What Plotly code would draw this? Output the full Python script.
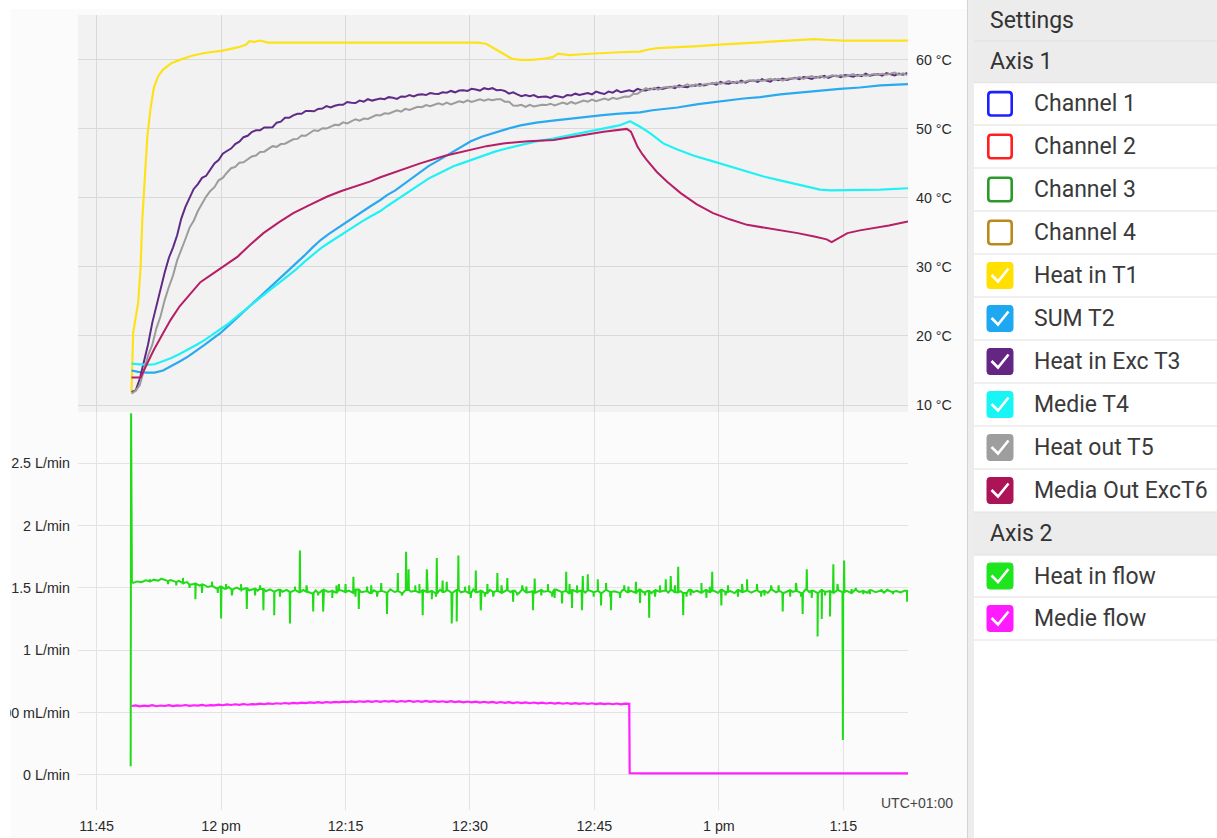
import plotly.graph_objects as go
from datetime import datetime, timedelta

W, H = 1217, 838
BASE = datetime(2024, 3, 14, 11, 45)


def at(minutes):
    return [BASE + timedelta(minutes=float(m)) for m in minutes]


def grid(start, step, n):
    return [round(start + step * i, 3) for i in range(n)]


# ---------------- data (minutes after 11:45) ----------------
x_tick_min = [0, 15, 30, 45, 60, 75, 90]
x_tick_text = ["11:45", "12 pm", "12:15", "12:30", "12:45", "1 pm", "1:15"]
temp_ticks = [10, 20, 30, 40, 50, 60]
temp_tick_text = ["10 °C", "20 °C", "30 °C", "40 °C", "50 °C", "60 °C"]
flow_ticks = [0, 0.5, 1, 1.5, 2, 2.5]
flow_tick_text = ["0 L/min", "500 mL/min", "1 L/min", "1.5 L/min", "2 L/min", "2.5 L/min"]

# Heat in T1
t1_min = [4.2, 4.3, 4.4, 5.0, 5.3, 5.5, 5.8, 6.1, 6.5, 6.9, 7.4, 8.0, 9.0, 10.0, 11.5, 13.0,
          15.0, 17.0, 18.0, 18.4, 19.0, 19.8, 20.6, 22, 25, 28, 31, 34, 38, 42, 46, 47, 48,
          49, 50, 51, 52.5, 54, 55, 55.6, 56.2, 57, 59, 61, 63, 65.5, 66.5, 67.6, 70, 72.5,
          75, 78, 81.5, 84, 86.5, 88, 90, 94, 97.8]
t1_val = [11.8, 15.0, 20.5, 24.8, 30.0, 36.8, 43.0, 48.8, 53.0, 56.0, 57.6, 58.6, 59.5, 60.0,
          60.6, 61.0, 61.3, 61.8, 62.2, 62.7, 62.6, 62.8, 62.5, 62.5, 62.45, 62.5, 62.45, 62.5,
          62.5, 62.5, 62.5, 62.3, 61.6, 60.8, 60.2, 60.0, 60.0, 60.2, 60.4, 60.9, 60.8, 60.7,
          60.85, 61.0, 61.1, 61.2, 61.5, 61.7, 61.9, 62.0, 62.2, 62.4, 62.7, 62.9, 63.0, 62.9,
          62.8, 62.8, 62.8]

# SUM T2
t2_min = [4.2, 5.0, 6.0, 7.0, 8.0, 9.0, 10.0, 11.0, 12.0, 13.0, 14.0, 14.9, 16.0, 17.0, 18.0,
          18.9, 20.0, 21.0, 22.0, 23.0, 24.0, 25.0, 26.0, 27.0, 28.0, 29.0, 30.0, 31.0, 32.0,
          33.0, 34.2, 35.0, 36.0, 37.0, 38.0, 39.0, 40.0, 41.0, 42.0, 43.0, 44.0, 45.1, 46.5,
          48.0, 49.5, 51.1, 53.0, 55.0, 57.1, 59.0, 61.0, 63.0, 65.5, 67.0, 70.0, 72.5, 75.2,
          78.0, 80.0, 82.4, 85.0, 87.5, 89.6, 92.0, 94.5, 97.8]
t2_val = [15.0, 14.8, 14.7, 14.7, 15.0, 15.6, 16.3, 17.0, 17.8, 18.7, 19.6, 20.4, 21.6, 22.7,
          23.8, 24.8, 26.0, 27.1, 28.2, 29.3, 30.5, 31.6, 32.8, 33.9, 34.8, 35.6, 36.5, 37.3,
          38.1, 38.8, 39.7, 40.4, 41.1, 42.0, 42.9, 43.8, 44.6, 45.3, 46.0, 46.7, 47.4, 48.2,
          48.9, 49.5, 50.0, 50.5, 50.9, 51.2, 51.5, 51.8, 52.0, 52.2, 52.4, 52.7, 53.1, 53.6,
          54.0, 54.4, 54.6, 55.0, 55.3, 55.6, 55.8, 56.0, 56.3, 56.5]

# Heat in Exc T3 (sampled every 0.5 min from 4.2)
t3_val = [11.9, 12.1, 13.8, 16.2, 18.8, 21.9, 24.3, 27.1, 29.2, 31.3,
          32.8, 34.6, 37.0, 38.7, 39.9, 41.3, 42.0, 42.9, 43.2, 44.2,
          45.0, 45.5, 46.4, 46.8, 47.15, 47.8, 48.15, 48.8, 49.0, 49.55,
          49.8, 49.8, 50.2, 50.2, 50.25, 50.9, 51.05, 51.6, 51.6, 51.95,
          52.2, 52.2, 52.6, 52.6, 52.55, 52.9, 52.95, 53.3, 53.1, 53.35,
          53.5, 53.5, 53.9, 53.8, 53.75, 54.1, 53.95, 54.3, 54.1, 54.25,
          54.4, 54.3, 54.6, 54.5, 54.35, 54.7, 54.65, 54.9, 54.7, 54.95,
          55.0, 54.9, 55.2, 55.1, 55.05, 55.3, 55.25, 55.5, 55.3, 55.55,
          55.6, 55.5, 55.8, 55.7, 55.55, 55.9, 55.75, 55.9, 55.6, 55.65,
          55.5, 55.1, 55.3, 55.0, 54.75, 54.9, 54.75, 54.9, 54.6, 54.65,
          54.7, 54.5, 54.8, 54.7, 54.55, 54.9, 54.85, 55.1, 54.9, 55.05,
          55.2, 55.0, 55.4, 55.2, 55.05, 55.4, 55.25, 55.6, 55.3, 55.45,
          55.6, 55.4, 55.8, 55.6, 55.55, 55.8, 55.75, 56.0, 55.8, 55.95,
          56.1, 55.9, 56.3, 56.1, 56.05, 56.3, 56.25, 56.5, 56.3, 56.45,
          56.6, 56.4, 56.8, 56.6, 56.55, 56.8, 56.65, 57.0, 56.7, 56.95,
          57.0, 56.8, 57.2, 57.0, 56.85, 57.2, 57.05, 57.3, 57.1, 57.25,
          57.4, 57.2, 57.5, 57.4, 57.25, 57.5, 57.45, 57.7, 57.4, 57.65,
          57.7, 57.5, 57.8, 57.7, 57.55, 57.8, 57.65, 58.0, 57.7, 57.85,
          57.9, 57.7, 58.1, 57.9, 57.75, 58.0, 57.85, 58.1]

# Medie T4
t4_min = [4.2, 5.0, 6.0, 7.0, 8.0, 9.0, 10.0, 11.0, 12.0, 13.0, 14.0, 14.9, 16.0, 17.0, 18.0,
          18.9, 20.0, 21.0, 22.0, 23.0, 24.0, 25.0, 26.0, 27.0, 28.0, 29.0, 30.0, 31.0, 32.0,
          33.0, 34.2, 35.0, 36.0, 37.0, 38.0, 39.0, 40.0, 41.0, 42.0, 43.0, 44.0, 45.1, 46.5,
          48.0, 49.5, 51.1, 53.0, 55.0, 57.1, 59.0, 61.1, 63.0, 64.3, 64.8, 65.5, 66.7, 68.3,
          70.0, 72.0, 74.3, 76.5, 78.5, 80.4, 82.5, 85.0, 87.2, 88.5, 90.0, 92.0, 94.5, 97.8]
t4_val = [16.0, 15.9, 15.8, 15.9, 16.3, 16.8, 17.4, 18.0, 18.7, 19.4, 20.2, 20.9, 21.9, 22.9,
          23.9, 24.8, 25.8, 26.8, 27.7, 28.6, 29.6, 30.7, 31.7, 32.7, 33.5, 34.3, 35.1, 35.8,
          36.6, 37.3, 38.1, 38.8, 39.6, 40.4, 41.3, 42.1, 42.8, 43.4, 44.0, 44.6, 45.0, 45.5,
          46.1, 46.7, 47.2, 47.7, 48.2, 48.6, 49.1, 49.5, 50.0, 50.5, 51.1, 50.8, 50.3, 49.4,
          47.9, 47.0, 46.1, 45.3, 44.5, 43.8, 43.1, 42.5, 41.8, 41.2, 41.1, 41.1, 41.15, 41.2,
          41.4]

# Heat out T5 (sampled every 0.5 min from 4.2)
t5_val = [11.65, 12.05, 12.9, 15.05, 17.2, 18.7, 21.1, 22.85, 25.2, 27.1,
          28.75, 30.95, 32.4, 34.05, 35.7, 36.7, 38.1, 39.15, 40.2, 41.0,
          41.55, 42.55, 42.9, 43.65, 44.3, 44.5, 45.1, 45.15, 45.6, 46.0,
          46.15, 46.65, 46.7, 47.05, 47.5, 47.4, 47.8, 47.85, 48.2, 48.5,
          48.55, 49.05, 49.0, 49.45, 49.8, 49.7, 50.1, 50.05, 50.3, 50.6,
          50.55, 50.95, 50.8, 51.05, 51.4, 51.2, 51.5, 51.45, 51.7, 52.0,
          51.95, 52.25, 52.2, 52.45, 52.7, 52.5, 52.9, 52.75, 53.0, 53.2,
          53.15, 53.45, 53.3, 53.45, 53.7, 53.5, 53.8, 53.55, 53.8, 54.0,
          53.85, 54.15, 53.9, 54.15, 54.3, 54.1, 54.3, 54.15, 54.3, 54.3,
          53.95, 53.95, 53.4, 53.35, 53.5, 53.2, 53.5, 53.25, 53.4, 53.5,
          53.45, 53.65, 53.4, 53.65, 53.8, 53.6, 53.9, 53.65, 53.9, 54.1,
          53.95, 54.25, 54.0, 54.25, 54.4, 54.2, 54.5, 54.35, 54.5, 54.7,
          54.65, 55.05, 55.1, 55.55, 55.9, 55.65, 55.95, 55.7, 55.95, 56.05,
          56.0, 56.2, 56.05, 56.2, 56.45, 56.15, 56.45, 56.2, 56.45, 56.55,
          56.5, 56.7, 56.55, 56.7, 56.95, 56.65, 56.85, 56.7, 56.85, 57.05,
          56.9, 57.1, 56.95, 57.1, 57.25, 57.05, 57.25, 57.0, 57.25, 57.35,
          57.3, 57.5, 57.25, 57.5, 57.65, 57.35, 57.65, 57.4, 57.55, 57.75,
          57.6, 57.8, 57.55, 57.8, 57.95, 57.65, 57.85, 57.7, 57.85, 57.95,
          57.8, 58.0, 57.85, 58.0, 58.15, 57.85, 58.05, 57.8]

# Media Out ExcT6
t6_min = [4.2, 5.3, 6.0, 6.9, 8.0, 8.9, 10.0, 11.3, 12.5, 14.1, 15.5, 17.0, 18.5, 20.1, 22.0,
          23.7, 25.7, 27.8, 29.5, 31.0, 33.0, 34.2, 36.5, 39.0, 42.0, 45.1, 47.0, 49.0, 52.0,
          55.1, 58.0, 61.1, 63.9, 64.4, 64.8, 65.2, 65.8, 66.3, 67.5, 68.8, 70.4, 72.3, 74.3,
          76.3, 78.4, 81.5, 84.5, 86.5, 88.0, 88.6, 89.3, 90.5, 92.0, 93.6, 95.5, 97.8]
t6_val = [14.0, 14.0, 15.8, 18.0, 20.4, 22.3, 24.3, 26.2, 27.8, 29.1, 30.3, 31.5, 33.2, 34.9,
          36.5, 37.8, 39.0, 40.2, 41.0, 41.6, 42.4, 43.0, 44.0, 45.0, 46.1, 47.0, 47.5, 47.9,
          48.2, 48.4, 49.0, 49.6, 50.0, 49.6, 48.5, 47.4, 46.3, 45.5, 43.8, 42.3, 40.7, 39.1,
          37.8, 36.9, 36.1, 35.5, 34.9, 34.4, 34.0, 33.6, 34.1, 34.9, 35.3, 35.6, 36.0, 36.6]

# Heat in flow: start transient, baseline every 0.5 min from 4.4, spikes
flow1_start_min = [4.10, 4.15, 4.25]
flow1_start_val = [0.07, 2.90, 1.55]
flow1_base_val = [1.540, 1.552, 1.546, 1.561, 1.553, 1.566, 1.558, 1.571, 1.556, 1.563,
                  1.548, 1.556, 1.538, 1.547, 1.527, 1.534, 1.518, 1.526, 1.507, 1.516,
                  1.498, 1.511, 1.493, 1.507, 1.488, 1.502, 1.484, 1.497, 1.481, 1.493,
                  1.478, 1.492, 1.473, 1.489, 1.471, 1.486, 1.469, 1.484, 1.468, 1.482,
                  1.466, 1.483, 1.470, 1.458, 1.479, 1.464, 1.485, 1.468, 1.476, 1.461,
                  1.482, 1.467, 1.478, 1.460, 1.487, 1.465, 1.474, 1.459, 1.481, 1.468,
                  1.476, 1.462, 1.489, 1.467, 1.473, 1.458, 1.484, 1.469, 1.477, 1.463,
                  1.482, 1.466, 1.475, 1.457, 1.486, 1.468, 1.479, 1.461, 1.483, 1.465,
                  1.474, 1.460, 1.488, 1.466, 1.477, 1.459, 1.484, 1.469, 1.475, 1.462,
                  1.481, 1.467, 1.478, 1.458, 1.486, 1.464, 1.473, 1.461, 1.482, 1.469,
                  1.476, 1.460, 1.487, 1.466, 1.474, 1.458, 1.483, 1.468, 1.479, 1.462,
                  1.480, 1.465, 1.476, 1.459, 1.485, 1.467, 1.473, 1.460, 1.484, 1.468,
                  1.477, 1.461, 1.488, 1.466, 1.475, 1.458, 1.482, 1.469, 1.478, 1.463,
                  1.481, 1.466, 1.474, 1.459, 1.486, 1.467, 1.476, 1.461, 1.483, 1.465,
                  1.477, 1.460, 1.485, 1.468, 1.474, 1.458, 1.484, 1.466, 1.479, 1.462,
                  1.482, 1.467, 1.475, 1.459, 1.487, 1.465, 1.473, 1.461, 1.481, 1.468,
                  1.476, 1.460, 1.486, 1.466, 1.478, 1.458, 1.483, 1.469, 1.474, 1.463,
                  1.481, 1.466, 1.477, 1.459, 1.484, 1.467, 1.475, 1.461, 1.482, 1.465,
                  1.476, 1.462, 1.480, 1.468, 1.474, 1.463, 1.478]
flow1_spike_min = [6.4, 11.9, 15.0, 18.1, 19.7, 20.1, 21.4, 23.3, 24.5, 26.1, 27.3, 30.0,
                   30.95, 31.6, 35.0, 36.3, 37.3, 37.6, 39.3, 39.8, 41.0, 41.7, 42.8, 43.4,
                   43.6, 45.7, 46.3, 48.3, 49.5, 50.2, 52.6, 52.8, 56.1, 56.6, 57.3, 58.5,
                   58.6, 59.2, 60.4, 60.8, 62.0, 65.5, 66.6, 68.6, 69.2, 70.1, 70.7, 74.2,
                   75.3, 78.4, 82.7, 85.1, 85.6, 86.9, 87.4, 88.4, 88.8, 89.95, 90.1, 97.7]
flow1_spike_val = [1.57, 1.41, 1.255, 1.33, 1.52, 1.32, 1.28, 1.215, 1.80, 1.31, 1.31, 1.53,
                   1.59, 1.33, 1.29, 1.62, 1.79, 1.65, 1.28, 1.65, 1.74, 1.56, 1.215, 1.23,
                   1.76, 1.64, 1.32, 1.62, 1.58, 1.39, 1.32, 1.575, 1.375, 1.63, 1.34, 1.32,
                   1.595, 1.61, 1.57, 1.36, 1.32, 1.38, 1.26, 1.57, 1.595, 1.67, 1.28, 1.63,
                   1.36, 1.57, 1.31, 1.29, 1.65, 1.11, 1.25, 1.27, 1.69, 0.28, 1.72, 1.39]
flow1_minor_min = [7.8, 8.6, 9.6, 10.4, 11.2, 12.7, 13.9, 14.6, 15.6, 16.3, 17.4, 19.1,
                   22.1, 23.9, 25.3, 26.7, 28.4, 28.9, 29.2, 31.2, 32.6, 33.1, 33.8, 34.3,
                   36.8, 38.4, 38.9, 40.4, 40.9, 42.2, 44.4, 44.9, 45.1, 46.8, 47.1, 47.8,
                   48.8, 50.7, 51.3, 51.8, 53.6, 54.4, 54.9, 55.2, 57.0, 57.9, 59.9, 61.4,
                   61.9, 63.1, 63.6, 64.1, 65.0, 66.1, 67.3, 67.9, 69.7, 71.1, 71.6, 72.9,
                   73.5, 73.9, 75.8, 76.1, 77.3, 77.8, 79.6, 80.1, 80.5, 81.3, 82.2, 83.6,
                   84.3, 84.9, 86.2, 87.8, 89.3, 91.0, 91.5, 92.4, 93.2, 94.6, 95.3, 96.0]
flow1_minor_val = [1.58, 1.53, 1.52, 1.58, 1.50, 1.46, 1.55, 1.46, 1.53, 1.44, 1.53, 1.44,
                   1.43, 1.51, 1.52, 1.44, 1.42, 1.52, 1.53, 1.43, 1.51, 1.52, 1.43, 1.54,
                   1.44, 1.52, 1.53, 1.41, 1.43, 1.55, 1.51, 1.52, 1.42, 1.43, 1.53, 1.43,
                   1.52, 1.44, 1.52, 1.51, 1.44, 1.53, 1.43, 1.42, 1.53, 1.52, 1.43, 1.54,
                   1.43, 1.42, 1.52, 1.51, 1.55, 1.44, 1.43, 1.52, 1.52, 1.43, 1.44, 1.54,
                   1.42, 1.51, 1.44, 1.52, 1.43, 1.53, 1.53, 1.43, 1.44, 1.52, 1.52, 1.43,
                   1.54, 1.43, 1.42, 1.44, 1.53, 1.49, 1.50, 1.45, 1.45, 1.49, 1.49, 1.45]

# Medie flow: every 0.5 min from 4.2 until the stop, then near zero
flow2_run_val = [0.553, 0.558, 0.550, 0.556, 0.552, 0.559, 0.551, 0.557, 0.553, 0.560,
                 0.552, 0.558, 0.555, 0.561, 0.554, 0.559, 0.556, 0.562, 0.555, 0.560,
                 0.558, 0.564, 0.559, 0.566, 0.561, 0.567, 0.562, 0.569, 0.563, 0.568,
                 0.566, 0.572, 0.567, 0.574, 0.569, 0.575, 0.571, 0.577, 0.572, 0.578,
                 0.574, 0.580, 0.576, 0.582, 0.578, 0.584, 0.579, 0.585, 0.580, 0.586,
                 0.582, 0.588, 0.584, 0.590, 0.585, 0.591, 0.586, 0.592, 0.587, 0.593,
                 0.587, 0.593, 0.588, 0.594, 0.587, 0.593, 0.588, 0.595, 0.587, 0.593,
                 0.587, 0.594, 0.586, 0.592, 0.586, 0.591, 0.585, 0.592, 0.584, 0.590,
                 0.583, 0.589, 0.582, 0.588, 0.581, 0.587, 0.580, 0.586, 0.579, 0.585,
                 0.578, 0.584, 0.577, 0.583, 0.576, 0.582, 0.575, 0.581, 0.574, 0.580,
                 0.573, 0.579, 0.572, 0.578, 0.571, 0.577, 0.570, 0.576, 0.570, 0.575,
                 0.569, 0.575, 0.568, 0.574, 0.568, 0.573, 0.567, 0.573, 0.566, 0.572,
                 0.570]
flow2_stop_min = [64.25, 66, 70, 75, 80, 85, 90, 95, 97.8]
flow2_stop_val = [0.015, 0.012, 0.013, 0.012, 0.013, 0.012, 0.013, 0.012, 0.013]

# legend panel content
legend_names = ["Channel 1", "Channel 2", "Channel 3", "Channel 4", "Heat in T1", "SUM T2",
                "Heat in Exc T3", "Medie T4", "Heat out T5", "Media Out ExcT6",
                "Heat in flow", "Medie flow"]
legend_colors = ["#1f1fff", "#ff1f1f", "#2a9a2a", "#b98a1a", "#ffe000", "#1ea8f2",
                 "#652683", "#19f5f5", "#9e9e9e", "#ad1457", "#1ee51e", "#ff1aff"]
legend_checked = [False, False, False, False, True, True, True, True, True, True, True, True]

line_colors = {"t1": "#fce21b", "t2": "#29a9f0", "t3": "#5f2b86", "t4": "#1ff1f5",
               "t5": "#9c9c9c", "t6": "#b71e66", "f1": "#1fdc16", "f2": "#ff22ff"}

# ---------------- build series ----------------
t3_min = grid(4.2, 0.5, len(t3_val))
t5_min = grid(4.2, 0.5, len(t5_val))
flow1_base_min = grid(4.4, 0.5, len(flow1_base_val))


def nearest_base(t):
    i = min(range(len(flow1_base_min)), key=lambda j: abs(flow1_base_min[j] - t))
    return flow1_base_val[i]


pts = list(zip(flow1_start_min, flow1_start_val)) + list(zip(flow1_base_min, flow1_base_val))
for t, v in list(zip(flow1_spike_min, flow1_spike_val)) + \
        list(zip(flow1_minor_min, flow1_minor_val)):
    b = nearest_base(t)
    pts += [(t - 0.04, b), (t, v), (t + 0.04, b)]
pts.sort(key=lambda p: p[0])
flow1_min = [p[0] for p in pts]
flow1_val = [p[1] for p in pts]
flow2_min = grid(4.2, 0.5, len(flow2_run_val)) + flow2_stop_min
flow2_val = flow2_run_val + flow2_stop_val

fig = go.Figure()


def add_line(mins, vals, color, width, ax):
    fig.add_trace(go.Scatter(x=at(mins), y=vals, mode="lines",
                             line=dict(color=color, width=width),
                             xaxis="x" if ax == 1 else "x2",
                             yaxis="y" if ax == 1 else "y2",
                             hoverinfo="skip", showlegend=False))


add_line(t1_min, t1_val, line_colors["t1"], 2.2, 1)
add_line(t2_min, t2_val, line_colors["t2"], 2.2, 1)
add_line(t3_min, t3_val, line_colors["t3"], 2.0, 1)
add_line(t4_min, t4_val, line_colors["t4"], 2.2, 1)
add_line(t5_min, t5_val, line_colors["t5"], 2.0, 1)
add_line(t6_min, t6_val, line_colors["t6"], 2.0, 1)
add_line(flow1_min, flow1_val, line_colors["f1"], 2.0, 2)
add_line(flow2_min, flow2_val, line_colors["f2"], 2.2, 2)


# ---------------- layout ----------------
def px(x):
    return x / W


def py(y):
    return 1 - y / H


x_dom = [px(78), px(908)]
top_dom = [py(411.7), py(15)]
bot_dom = [py(810), py(411.7)]
x_range = [BASE + timedelta(minutes=-2.25), BASE + timedelta(minutes=97.8)]
tick_font = dict(family="Liberation Sans, Arial, sans-serif", size=14.3, color="#2a2a2a")

fig.update_layout(
    width=W, height=H, margin=dict(l=0, r=0, t=0, b=0),
    paper_bgcolor="#ffffff", plot_bgcolor="rgba(0,0,0,0)",
    xaxis=dict(domain=x_dom, range=x_range, anchor="y", showticklabels=False,
               tickvals=at(x_tick_min), showgrid=True, gridcolor="#d9d9d9", gridwidth=1.4,
               zeroline=False, showline=False, ticks="", automargin=False),
    xaxis2=dict(domain=x_dom, range=x_range, anchor="y2", tickvals=at(x_tick_min),
                ticktext=x_tick_text, showgrid=True, gridcolor="#e3e3e3", gridwidth=1.4,
                zeroline=False, showline=False, ticks="", tickfont=tick_font,
                ticklabelstandoff=6, automargin=False),
    yaxis=dict(domain=top_dom, range=[9.03, 66.5], anchor="x", side="right",
               tickvals=temp_ticks, ticktext=temp_tick_text, showgrid=True,
               gridcolor="#d9d9d9", gridwidth=1.4, zeroline=False, showline=False,
               ticks="", tickfont=tick_font, ticklabelstandoff=7, automargin=False),
    yaxis2=dict(domain=bot_dom, range=[-0.281, 2.913], anchor="x2", side="left",
                tickvals=flow_ticks, ticktext=flow_tick_text, showgrid=True,
                gridcolor="#e3e3e3", gridwidth=1.4, zeroline=False, showline=False,
                ticks="", tickfont=tick_font, ticklabelstandoff=7, automargin=False),
)

shapes = []
shapes.append(dict(type="rect", xref="paper", yref="paper", x0=px(10.5), x1=px(967),
                   y0=0, y1=py(9), fillcolor="#fbfbfb", line=dict(width=0), layer="below"))
shapes.append(dict(type="rect", xref="x domain", yref="y domain", x0=0, x1=1, y0=0, y1=1,
                   fillcolor="#f2f2f2", line=dict(width=0), layer="below"))
shapes.append(dict(type="rect", xref="paper", yref="paper", x0=px(967), x1=px(974),
                   y0=0, y1=1, fillcolor="#ededed", line=dict(width=0), layer="above"))
shapes.append(dict(type="line", xref="paper", yref="paper", x0=px(967.5), x1=px(967.5),
                   y0=0, y1=1, line=dict(color="#d4d4d4", width=1), layer="above"))
for y0, y1 in [(0, 41), (41, 82.7), (512, 555)]:
    shapes.append(dict(type="rect", xref="paper", yref="paper", x0=px(974), x1=1,
                       y0=py(y1), y1=py(y0), fillcolor="#ececec", line=dict(width=0),
                       layer="above"))
separators = [41, 82.7, 125, 168, 211, 254, 297, 340, 383, 426, 469, 512, 555, 597, 640]
for s in separators:
    shapes.append(dict(type="line", xref="paper", yref="paper", x0=px(974), x1=1,
                       y0=py(s), y1=py(s), line=dict(color="#e0e0e0", width=1),
                       layer="above"))


def rounded_box(x0, y0, x1, y1, r):
    pts_ = [
        f"M {px(x0 + r)} {py(y0)}", f"L {px(x1 - r)} {py(y0)}",
        f"Q {px(x1)} {py(y0)} {px(x1)} {py(y0 + r)}", f"L {px(x1)} {py(y1 - r)}",
        f"Q {px(x1)} {py(y1)} {px(x1 - r)} {py(y1)}", f"L {px(x0 + r)} {py(y1)}",
        f"Q {px(x0)} {py(y1)} {px(x0)} {py(y1 - r)}", f"L {px(x0)} {py(y0 + r)}",
        f"Q {px(x0)} {py(y0)} {px(x0 + r)} {py(y0)}", "Z"]
    return " ".join(pts_)


item_rows = [(separators[i], separators[i + 1]) for i in range(1, 11)] + \
            [(separators[12], separators[13]), (separators[13], separators[14])]
annotations = []
label_font = dict(family="Roboto, sans-serif", size=23, color="#3a3a3a")
for (ya, yb), name, col, chk in zip(item_rows, legend_names, legend_colors, legend_checked):
    cy = (ya + yb) / 2
    bx0, bx1 = 987, 1013
    by0, by1 = cy - 13, cy + 13
    if chk:
        shapes.append(dict(type="path", xref="paper", yref="paper",
                           path=rounded_box(bx0, by0, bx1, by1, 3),
                           fillcolor=col, line=dict(color=col, width=1), layer="above"))
        chk_path = (f"M {px(bx0 + 4.5)} {py(by0 + 12.5)} L {px(bx0 + 11)} {py(by0 + 19)} "
                    f"L {px(bx0 + 21.5)} {py(by0 + 6)}")
        shapes.append(dict(type="path", xref="paper", yref="paper", path=chk_path,
                           line=dict(color="#ffffff", width=2.6), layer="above"))
    else:
        shapes.append(dict(type="path", xref="paper", yref="paper",
                           path=rounded_box(bx0 + 1.3, by0 + 1.3, bx1 - 1.3, by1 - 1.3, 3),
                           fillcolor="#ffffff", line=dict(color=col, width=2.6),
                           layer="above"))
    annotations.append(dict(text=name, x=px(1032), y=py(cy), xref="paper", yref="paper",
                            xanchor="left", yanchor="middle", showarrow=False,
                            font=label_font))

for text, cy in [("Settings", 20.5), ("Axis 1", 61.5), ("Axis 2", 533.5)]:
    annotations.append(dict(text=text, x=px(988), y=py(cy), xref="paper", yref="paper",
                            xanchor="left", yanchor="middle", showarrow=False,
                            font=dict(family="Roboto, sans-serif", size=23, color="#333333")))

annotations.append(dict(text="UTC+01:00", x=px(955), y=py(803), xref="paper", yref="paper",
                        xanchor="right", yanchor="middle", showarrow=False,
                        font=dict(family="Liberation Sans, Arial, sans-serif", size=14,
                                  color="#444444")))
# card edge on the left hides the overflowing start of the long tick label
annotations.append(dict(text=" ", x=0, y=0.5, xref="paper", yref="paper", xanchor="left",
                        yanchor="middle", showarrow=False, width=10, height=H,
                        bgcolor="#ffffff", borderpad=0, borderwidth=0))

fig.update_layout(shapes=shapes, annotations=annotations)
fig.write_html("out.html")
